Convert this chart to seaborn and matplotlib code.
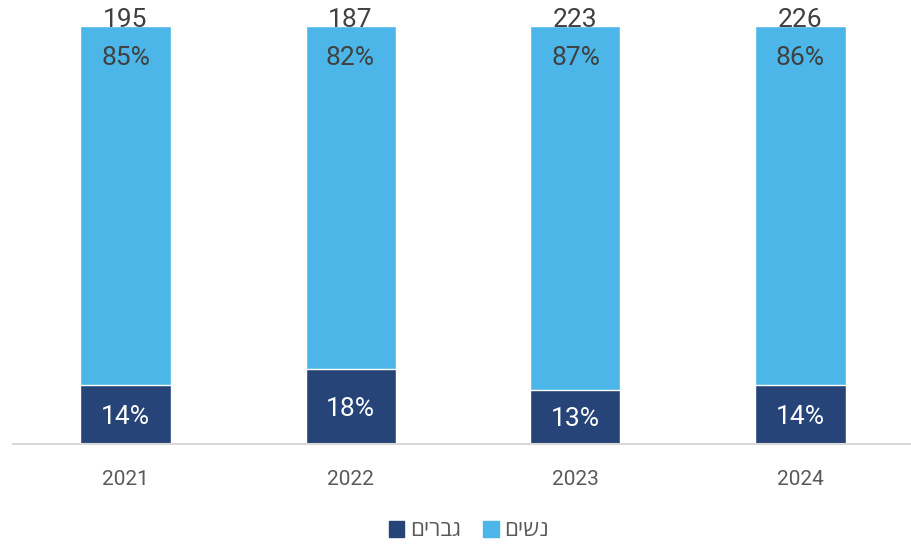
import pandas as pd
import matplotlib.pyplot as plt
import seaborn as sns
from matplotlib.patches import Patch

# נתונים
years = ['2021', '2022', '2023', '2024']
totals = [195, 187, 223, 226]
men_pct = [14, 18, 13, 14]
women_pct = [85, 82, 87, 86]
men_label = 'גברים'
women_label = 'נשים'

dark = '#264478'
light = '#4BB6E7'

df = pd.DataFrame({'year': years, 'total': totals, 'men': men_pct, 'women': women_pct})
# 100% stacked: normalise each bar
df['men_share'] = df['men'] / (df['men'] + df['women']) * 100
df['full'] = 100.0

sns.set_theme(style='white')
plt.rcParams['font.family'] = ['Roboto', 'Open Sans', 'DejaVu Sans']

fig = plt.figure(figsize=(9.12, 5.44), dpi=100)
ax = fig.add_axes([13 / 912, 100 / 544, 900 / 912, 418 / 544])

sns.barplot(data=df, x='year', y='full', color=light, width=0.4, saturation=1, ax=ax)
sns.barplot(data=df, x='year', y='men_share', color=dark, width=0.4, saturation=1, ax=ax)

ax.set_xlim(-0.5, 3.5)
ax.set_ylim(0, 100)
ax.set_xlabel('')
ax.set_ylabel('')
ax.set_yticks([])
for s in ['top', 'right', 'left']:
    ax.spines[s].set_visible(False)
ax.spines['bottom'].set_color('#d9d9d9')
ax.spines['bottom'].set_linewidth(1.5)
ax.tick_params(axis='x', length=0, pad=19, labelsize=15, labelcolor='#595959')

for i, row in df.iterrows():
    ax.text(i, row['men_share'] / 2 - 0.6, f"{row['men']}%", ha='center', va='center',
            color='white', fontsize=19)
    ax.text(i, 100 - 7.6, f"{row['women']}%", ha='center', va='center',
            color='#404040', fontsize=19)
    ax.text(i, 101.5, f"{row['total']}", ha='center', va='center',
            color='#404040', fontsize=19, clip_on=False)

handles = [Patch(color=dark, label=men_label[::-1]), Patch(color=light, label=women_label[::-1])]
fig.legend(handles=handles, loc='center', bbox_to_anchor=(0.514, 13 / 544), ncol=2,
           frameon=False, fontsize=16, handlelength=0.7, handleheight=0.7,
           handletextpad=0.25, columnspacing=1.0, labelcolor='#595959',
           borderpad=0.2)

fig.savefig('out.png', dpi=100)
